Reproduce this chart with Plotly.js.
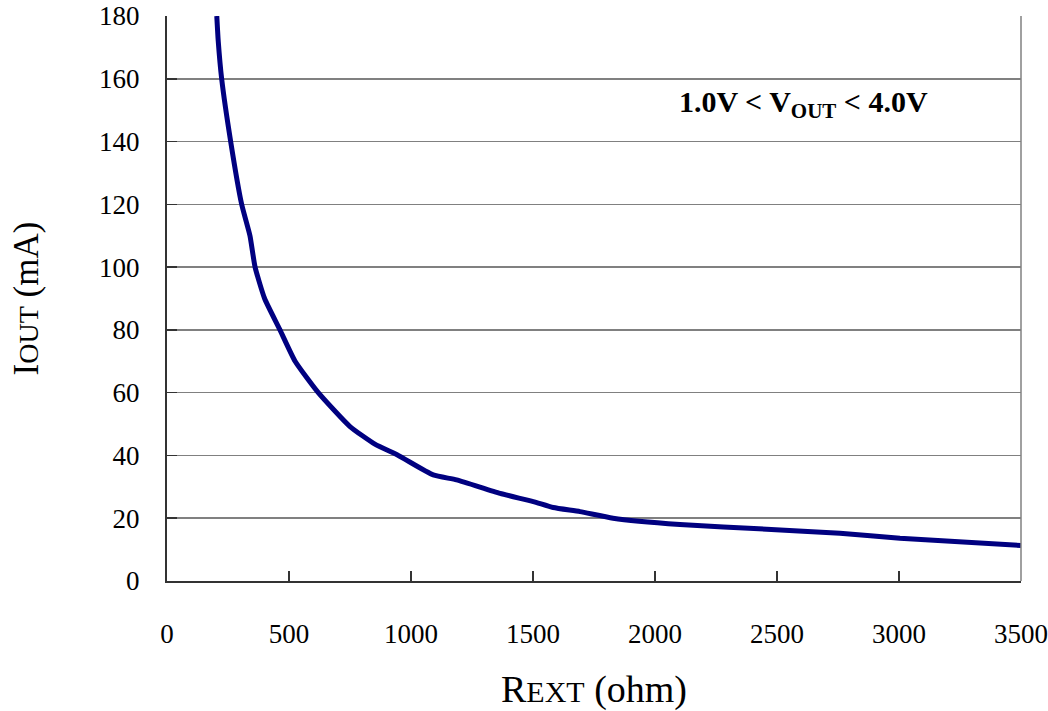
<!DOCTYPE html>
<html>
<head>
<meta charset="utf-8">
<script src="https://cdn.plot.ly/plotly-3.0.1.min.js"></script>
<style>html,body{margin:0;padding:0;background:#fff;}#chart{width:1048px;height:711px;}</style>
</head>
<body>
<div id="chart"></div>
<script>
// R_EXT (ohm)
const rext = [204, 210, 224, 261, 306, 340, 361, 400, 463, 525, 620, 750, 852, 948, 1091, 1187, 1365, 1501, 1583, 1693, 1828, 2102, 2458, 2758, 3004, 3500];
// I_OUT (mA)
const iout = [180, 172, 160, 140, 120, 110, 100, 90, 80, 70, 60, 49.2, 43.6, 40, 33.8, 32.2, 27.9, 25.3, 23.4, 22.1, 20, 18, 16.5, 15.2, 13.6, 11.3];
const xTicks = [0, 500, 1000, 1500, 2000, 2500, 3000, 3500];
const yTicks = [0, 20, 40, 60, 80, 100, 120, 140, 160, 180];
const annotationText = '1.0V < V<sub>OUT</sub> < 4.0V';

const serif = 'Liberation Serif, Times New Roman, serif';

const trace = {
  x: rext, y: iout, type: 'scatter', mode: 'lines',
  line: {color: '#000080', width: 5, shape: 'spline', smoothing: 0.5},
  hoverinfo: 'skip', cliponaxis: true
};

const layout = {
  width: 1048, height: 711,
  margin: {l: 167, r: 27, t: 16, b: 130},
  paper_bgcolor: '#ffffff', plot_bgcolor: '#ffffff',
  showlegend: false,
  font: {family: serif, color: '#000'},
  xaxis: {
    range: [0, 3500], tickmode: 'array', tickvals: xTicks, ticktext: xTicks.map(String),
    showgrid: false, zeroline: false,
    showline: true, linecolor: '#333', linewidth: 2,
    ticks: 'inside', ticklen: 10, tickwidth: 1.5, tickcolor: '#333',
    tickfont: {family: serif, size: 27, color: '#000'},
    ticklabelstandoff: 28, ticklabeloverflow: 'allow',
    title: {text: 'R<span style="font-size:30px">EXT</span> (ohm)', font: {family: serif, size: 38, color: '#000'}, standoff: 32},
    automargin: false, fixedrange: true
  },
  yaxis: {
    range: [0, 180], tickmode: 'array', tickvals: yTicks, ticktext: yTicks.map(String),
    showgrid: true, gridcolor: '#808080', gridwidth: 1.5,
    zeroline: false,
    showline: true, linecolor: '#333', linewidth: 2,
    ticks: 'inside', ticklen: 10, tickwidth: 1.5, tickcolor: '#333',
    tickfont: {family: serif, size: 27, color: '#000'},
    ticklabelstandoff: 20, ticklabeloverflow: 'allow',
    title: {text: 'I<span style="font-size:28px">OUT</span> (mA)', font: {family: serif, size: 35, color: '#000'}, standoff: 50},
    automargin: false, fixedrange: true
  },
  shapes: [
    {type: 'line', xref: 'paper', yref: 'paper', x0: 1, x1: 1, y0: 0, y1: 1, line: {color: '#808080', width: 1.5}}
  ],
  annotations: [
    {xref: 'paper', yref: 'paper', x: 0.745, y: 0.845, xanchor: 'center', yanchor: 'middle', showarrow: false,
     text: '<b>' + annotationText + '</b>', font: {family: serif, size: 30, color: '#000'}}
  ]
};

Plotly.newPlot('chart', [trace], layout, {staticPlot: true, displayModeBar: false});
</script>
</body>
</html>
